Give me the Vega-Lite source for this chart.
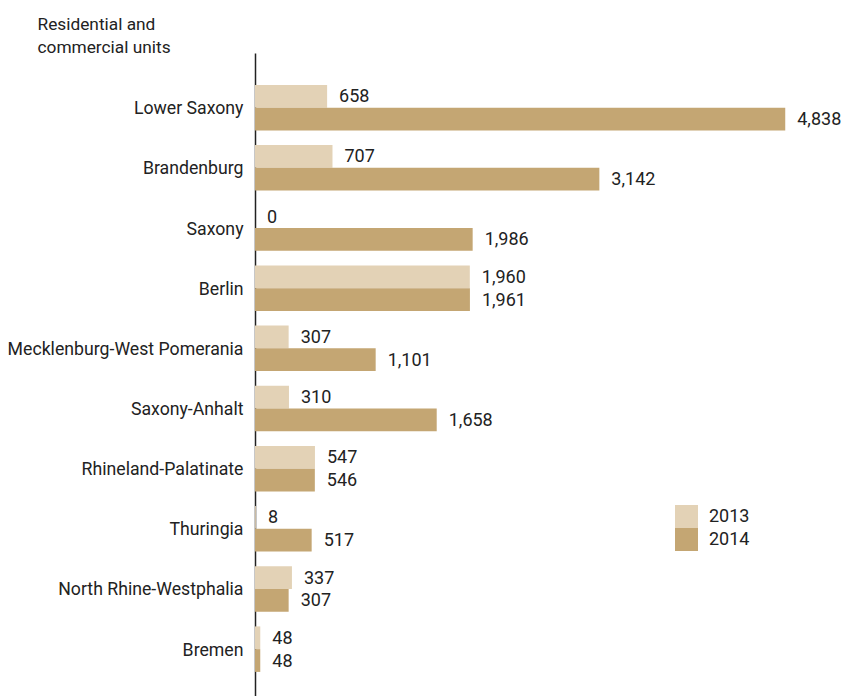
{
  "$schema": "https://vega.github.io/schema/vega-lite/v6.json",
  "width": 548,
  "height": 643,
  "autosize": {"type": "none"},
  "padding": {"left": 255, "top": 53, "right": 38, "bottom": 0},
  "background": "white",
  "config": {"view": {"stroke": null}, "font": "Roboto"},
  "data": {"values": [
    {"state": "Lower Saxony", "year": "2013", "value": 658},
    {"state": "Lower Saxony", "year": "2014", "value": 4838},
    {"state": "Brandenburg", "year": "2013", "value": 707},
    {"state": "Brandenburg", "year": "2014", "value": 3142},
    {"state": "Saxony", "year": "2013", "value": 0},
    {"state": "Saxony", "year": "2014", "value": 1986},
    {"state": "Berlin", "year": "2013", "value": 1960},
    {"state": "Berlin", "year": "2014", "value": 1961},
    {"state": "Mecklenburg-West Pomerania", "year": "2013", "value": 307},
    {"state": "Mecklenburg-West Pomerania", "year": "2014", "value": 1101},
    {"state": "Saxony-Anhalt", "year": "2013", "value": 310},
    {"state": "Saxony-Anhalt", "year": "2014", "value": 1658},
    {"state": "Rhineland-Palatinate", "year": "2013", "value": 547},
    {"state": "Rhineland-Palatinate", "year": "2014", "value": 546},
    {"state": "Thuringia", "year": "2013", "value": 8},
    {"state": "Thuringia", "year": "2014", "value": 517},
    {"state": "North Rhine-Westphalia", "year": "2013", "value": 337},
    {"state": "North Rhine-Westphalia", "year": "2014", "value": 307},
    {"state": "Bremen", "year": "2013", "value": 48},
    {"state": "Bremen", "year": "2014", "value": 48}
  ]},
  "encoding": {
    "y": {
      "field": "state", "type": "nominal", "sort": null,
      "scale": {"paddingInner": 0.244, "paddingOuter": 0.466, "align": 0.57},
      "axis": {
        "title": ["Residential and", "commercial units"],
        "titleAngle": 0, "titleAlign": "left", "titleBaseline": "alphabetic",
        "titleX": -218, "titleY": -24, "titleFontSize": 17.3, "titleFontWeight": "normal",
        "titleLineHeight": 23, "titleColor": "#222",
        "labelFontSize": 17.7, "labelPadding": 12, "labelColor": "#222", "labelLimit": 400,
        "labelOffset": 1.5,
        "ticks": false, "domainColor": "#222", "domainWidth": 1.5
      }
    },
    "yOffset": {"field": "year", "type": "nominal", "scale": {"paddingInner": 0, "paddingOuter": 0}},
    "x": {"field": "value", "type": "quantitative", "scale": {"domain": [0, 5000]}, "axis": null}
  },
  "layer": [
    {
      "mark": {"type": "bar"},
      "encoding": {
        "color": {
          "field": "year", "type": "nominal",
          "scale": {"domain": ["2013", "2014"], "range": ["#E3D2B6", "#C4A673"]},
          "legend": {
            "title": null, "orient": "none", "legendX": 420, "legendY": 452,
            "symbolType": "square", "symbolSize": 529, "symbolStrokeWidth": 0, "symbolOpacity": 1,
            "labelFontSize": 18, "labelOffset": 11, "rowPadding": 0, "labelColor": "#222"
          }
        }
      }
    },
    {
      "mark": {"type": "text", "align": "left", "baseline": "middle", "dx": 12, "dy": 1, "fontSize": 18, "color": "#222"},
      "encoding": {"text": {"field": "value", "type": "quantitative", "format": ","}}
    }
  ]
}
